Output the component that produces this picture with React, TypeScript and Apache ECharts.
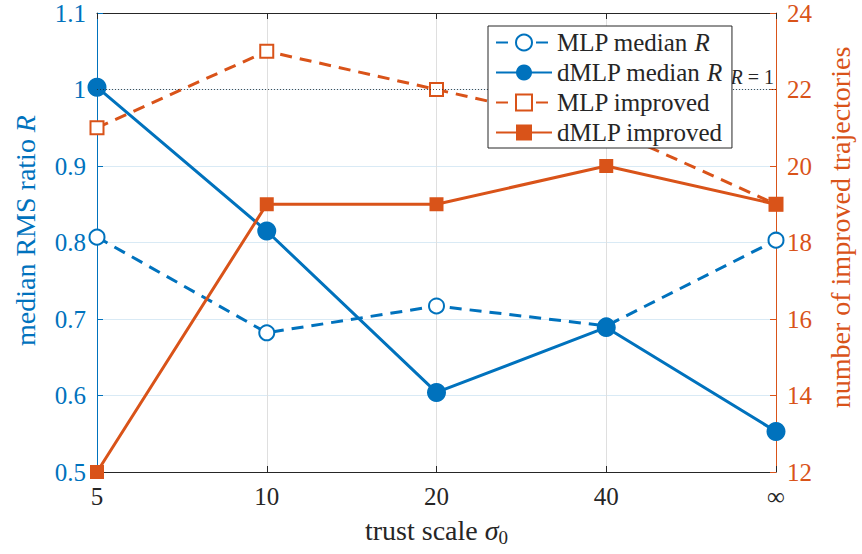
import React, { useEffect, useRef } from "react";
import * as echarts from "echarts";

const categories = ["5", "10", "20", "40", "∞"];
const mlpMedianR = [0.807, 0.682, 0.717, 0.691, 0.803];
const dmlpMedianR = [1.003, 0.815, 0.604, 0.689, 0.553];
const mlpImproved = [21, 23, 22, 21, 19];
const dmlpImproved = [12, 19, 19, 20, 19];
const seriesNames = ["MLP median R", "dMLP median R", "MLP improved", "dMLP improved"];
const refValue = 1;

const BLUE = "#0072BD";
const ORANGE = "#D95319";
const DARK = "#262626";
const FONT = "'Liberation Serif', serif";
const TICK = 25;
const NAME = 28;
const LEG = 25;

export default function App() {
  const ref = useRef<HTMLDivElement>(null);
  useEffect(() => {
    if (!ref.current) return;
    const chart = echarts.init(ref.current, undefined, { renderer: "svg" });
    const dash = [12, 8];
    chart.setOption({
      animation: false,
      backgroundColor: "#fff",
      textStyle: { fontFamily: FONT },
      grid: { left: 97, right: 80, top: 13, bottom: 82, containLabel: false },
      legend: {
        orient: "vertical",
        left: 488,
        top: 26,
        padding: [4, 9, 3, 7],
        itemGap: 5,
        itemWidth: 56,
        itemHeight: 20,
        backgroundColor: "#fff",
        borderColor: DARK,
        borderWidth: 1,
        data: seriesNames,
        formatter: (n: string) => n.endsWith(" R") ? n.slice(0, -1) + "{i|R}" : n,
        textStyle: {
          fontFamily: FONT,
          fontSize: LEG,
          lineHeight: 20,
          color: DARK,
          rich: { i: { fontFamily: FONT, fontSize: LEG, lineHeight: 20, fontStyle: "italic", color: DARK } },
        },
        z: 10,
      },
      xAxis: [
        {
          type: "category",
          data: categories,
          boundaryGap: false,
          position: "bottom",
          axisLine: { lineStyle: { color: DARK, width: 1 } },
          axisTick: { inside: true, length: 6, lineStyle: { color: DARK } },
          axisLabel: { color: DARK, fontFamily: FONT, fontSize: TICK, margin: 12 },
          splitLine: { show: true, lineStyle: { color: "#dfdfdf", width: 1 } },
          name: "trust scale {i|σ}{s|0}",
          nameLocation: "middle",
          nameGap: 42,
          nameTextStyle: {
            color: DARK,
            fontFamily: FONT,
            fontSize: NAME,
            rich: {
              i: { fontFamily: FONT, fontSize: NAME, fontStyle: "italic", color: DARK },
              s: { fontFamily: FONT, fontSize: 19, color: DARK, padding: [14, 0, 0, 0] },
            },
          },
        },
        {
          type: "category",
          data: categories,
          boundaryGap: false,
          position: "top",
          axisLine: { lineStyle: { color: DARK, width: 1 } },
          axisTick: { inside: true, length: 6, lineStyle: { color: DARK } },
          axisLabel: { show: false },
          splitLine: { show: false },
        },
      ],
      yAxis: [
        {
          type: "value",
          min: 0.5,
          max: 1.1,
          interval: 0.1,
          position: "left",
          axisLine: { show: true, lineStyle: { color: BLUE, width: 1 } },
          axisTick: { show: true, inside: true, length: 6, lineStyle: { color: BLUE } },
          axisLabel: { color: BLUE, fontFamily: FONT, fontSize: TICK, margin: 11 },
          splitLine: { show: true, lineStyle: { color: "#d9eaf5", width: 1 } },
          name: "median RMS ratio {i|R}",
          nameLocation: "middle",
          nameRotate: 90,
          nameGap: 58,
          nameTextStyle: {
            color: BLUE,
            fontFamily: FONT,
            fontSize: NAME,
            padding: [0, 0, 0, 24],
            rich: { i: { fontFamily: FONT, fontSize: NAME, fontStyle: "italic", color: BLUE } },
          },
        },
        {
          type: "value",
          min: 12,
          max: 24,
          interval: 2,
          position: "right",
          axisLine: { show: true, lineStyle: { color: ORANGE, width: 1 } },
          axisTick: { show: true, inside: true, length: 6, lineStyle: { color: ORANGE } },
          axisLabel: { color: ORANGE, fontFamily: FONT, fontSize: TICK, margin: 11 },
          splitLine: { show: false },
          name: "number of improved trajectories",
          nameLocation: "middle",
          nameRotate: 90,
          nameGap: 50,
          nameTextStyle: { color: ORANGE, fontFamily: FONT, fontSize: NAME, padding: [0, 0, 0, 30] },
        },
      ],
      series: [
        {
          name: seriesNames[0],
          type: "line",
          yAxisIndex: 0,
          data: mlpMedianR,
          symbol: "emptyCircle",
          symbolSize: 15,
          color: BLUE,
          itemStyle: { color: BLUE, borderWidth: 2.8 },
          lineStyle: { color: BLUE, width: 3, type: dash },
          z: 3,
          markLine: {
            silent: true,
            symbol: "none",
            lineStyle: { color: DARK, type: [1, 2], width: 0.8 },
            label: {
              show: true,
              position: "insideEndTop",
              distance: [2, 3],
              formatter: "{i|R} = " + refValue,
              color: DARK,
              fontFamily: FONT,
              fontSize: 20,
              rich: { i: { fontFamily: FONT, fontSize: 20, fontStyle: "italic", color: DARK } },
            },
            data: [{ yAxis: refValue }],
          },
        },
        {
          name: seriesNames[1],
          type: "line",
          yAxisIndex: 0,
          data: dmlpMedianR,
          symbol: "circle",
          symbolSize: 19,
          color: BLUE,
          itemStyle: { color: BLUE },
          lineStyle: { color: BLUE, width: 3 },
          z: 3,
        },
        {
          name: seriesNames[2],
          type: "line",
          yAxisIndex: 1,
          data: mlpImproved,
          symbol: "emptyRect",
          symbolSize: 13,
          color: ORANGE,
          itemStyle: { color: ORANGE, borderWidth: 2.8 },
          lineStyle: { color: ORANGE, width: 3, type: dash },
          z: 4,
        },
        {
          name: seriesNames[3],
          type: "line",
          yAxisIndex: 1,
          data: dmlpImproved,
          symbol: "rect",
          symbolSize: 14,
          color: ORANGE,
          itemStyle: { color: ORANGE },
          lineStyle: { color: ORANGE, width: 3 },
          z: 4,
        },
      ],
    });
    return () => chart.dispose();
  }, []);
  return (
    <div
      ref={ref}
      style={{ position: "absolute", left: 0, top: 0, width: 862, height: 554 }}
    />
  );
}
